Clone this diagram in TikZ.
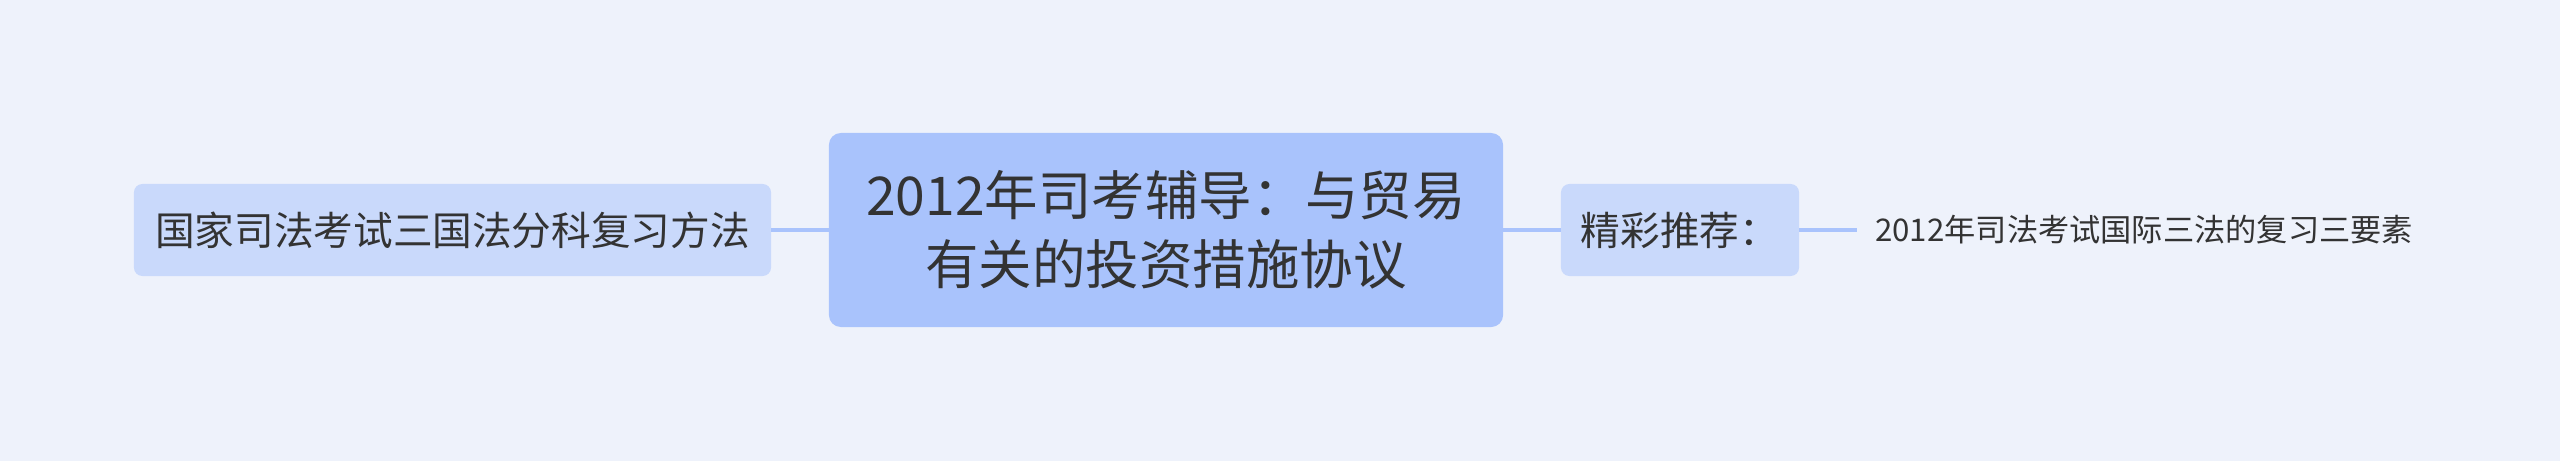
\documentclass[tikz,border=0pt]{standalone}
\usepackage{fontspec}
\setmainfont{Noto Sans CJK SC}
\usetikzlibrary{positioning}
\definecolor{bgcol}{HTML}{EEF2FB}
\definecolor{maincol}{HTML}{A9C3FC}
\definecolor{subcol}{HTML}{C9D9FB}
\definecolor{linecol}{HTML}{A9C3FC}
\definecolor{textcol}{HTML}{333333}

\begin{document}
\begin{tikzpicture}[x=0.025cm, y=-0.025cm,
	mainbox/.style={fill=maincol, rounded corners=8.5pt, minimum width=674*0.7113pt, minimum height=194*0.7113pt, align=center, text=textcol, font=\fontsize{38}{49}\selectfont},
	subbox/.style={fill=subcol, rounded corners=6pt, minimum height=92*0.7113pt, inner xsep=0pt, text=textcol, font=\fontsize{28.2}{34}\selectfont},
	leaftext/.style={inner xsep=18*0.7113pt, inner ysep=0pt, text=textcol, font=\fontsize{22.2}{27}\selectfont},
	link/.style={draw=linecol, line width=4*0.7113pt}]
			%%%%% START %%%%%
			
			\fill[bgcol] (0, 0) rectangle (2560, 461);
			\useasboundingbox (0, 0) rectangle (2560, 461);
			
			\node[mainbox] (topic) at (1166, 230) {2012年司考辅导：与贸易\\有关的投资措施协议};
			
			\node[subbox, minimum width=637*0.7113pt] (method) at (452.5, 230) {国家司法考试三国法分科复习方法};
			\node[subbox, minimum width=238*0.7113pt] (recommend) at (1680, 230) {精彩推荐：};
			
			\node[leaftext, anchor=west] (leaf) at (1857, 230) {2012年司法考试国际三法的复习三要素};
			
			\draw[link] (method.east) -- (topic.west);
			\draw[link] (topic.east) -- (recommend.west);
			\draw[link] (recommend.east) -- (leaf.west);
			
			%%%%% END %%%%%
		\end{tikzpicture}
\end{document}
